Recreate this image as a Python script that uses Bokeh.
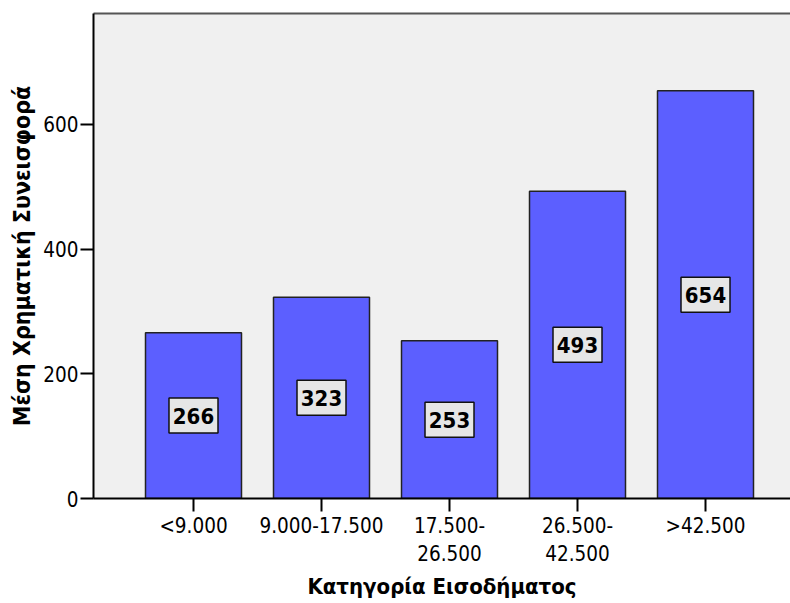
from bokeh.plotting import figure
from bokeh.models import ColumnDataSource, FixedTicker, LinearAxis, Range1d
from bokeh.core.properties import value
from bokeh.embed import file_html
from bokeh.resources import INLINE

categories = ["<9.000", "9.000-17.500", "17.500-\n26.500", "26.500-\n42.500", ">42.500"]
values = [266, 323, 253, 493, 654]
y_ticks = [0, 200, 400, 600]

FONT = "DejaVu Sans Condensed"

xs = list(range(1, len(categories) + 1))
src = ColumnDataSource(dict(
    x=xs,
    top=values,
    mid=[v / 2 for v in values],
    label=[str(v) for v in values],
))

p = figure(width=790, height=603, output_backend="svg", toolbar_location=None,
           x_range=Range1d(0.21875, 5.664), y_range=Range1d(0, 778))
p.min_border_left = 93
p.min_border_right = 0
p.min_border_top = 13
p.min_border_bottom = 105
p.background_fill_color = "#f0f0f0"
p.border_fill_color = "white"
p.outline_line_color = None
p.grid.visible = False

p.vbar(x="x", top="top", bottom=0, width=0.75, source=src,
       fill_color="#5c5fff", line_color="#222222", line_width=1.5)
p.rect(x="x", y="mid", width=49, height=35, width_units="screen", height_units="screen",
       source=src, fill_color="#e6e6e6", line_color="#111111", line_width=1.5)
p.text(x="x", y="mid", text="label", source=src, text_align="center",
       text_baseline="middle", text_font=value(FONT), text_font_style="bold",
       text_font_size="22px", text_color="black")

for ax in (p.xaxis[0], p.yaxis[0]):
    ax.axis_line_color = "black"
    ax.axis_line_width = 2
    ax.major_tick_line_color = "black"
    ax.major_tick_line_width = 2
    ax.major_tick_out = 13
    ax.major_tick_in = 0
    ax.minor_tick_line_color = None
    ax.major_label_text_font = FONT
    ax.major_label_text_font_size = "20.5px"
    ax.major_label_text_color = "black"
    ax.axis_label_text_font = FONT
    ax.axis_label_text_font_style = "bold"
    ax.axis_label_text_color = "black"

p.xaxis.ticker = FixedTicker(ticks=xs)
p.xaxis.major_label_overrides = {float(x): c for x, c in zip(xs, categories)}
p.xaxis.major_label_standoff = 2
p.xaxis.axis_label = "Κατηγορία Εισοδήματος"
p.xaxis.axis_label_standoff = 5
p.xaxis.axis_label_text_font_size = "22px"

p.yaxis.ticker = FixedTicker(ticks=y_ticks)
p.yaxis.major_label_standoff = 2
p.yaxis.axis_label = "Μέση Χρηματική Συνεισφορά"
p.yaxis.axis_label_standoff = 5
p.yaxis.axis_label_text_font_size = "23px"

top = LinearAxis(axis_line_color="#555555", axis_line_width=2,
                 major_tick_line_color=None, minor_tick_line_color=None,
                 major_label_text_font_size="0px", major_label_standoff=0,
                 ticker=FixedTicker(ticks=[]))
p.add_layout(top, "above")

open("out.html", "w").write(file_html(p, INLINE))
